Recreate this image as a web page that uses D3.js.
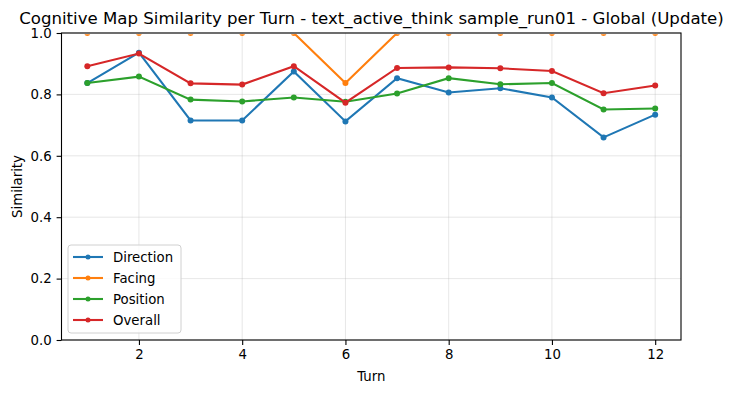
<!DOCTYPE html>
<html>
<head>
<meta charset="utf-8">
<script src="https://cdn.jsdelivr.net/npm/d3@7"></script>
<style>
  body { margin: 0; background: #fff; }
  text { font-family: "DejaVu Sans", sans-serif; fill: #000; }
</style>
</head>
<body>
<div id="chart"></div>
<script>
const turns = [1, 2, 3, 4, 5, 6, 7, 8, 9, 10, 11, 12];
const direction = [0.837, 0.936, 0.715, 0.715, 0.875, 0.712, 0.853, 0.806, 0.820, 0.790, 0.660, 0.734];
const facing = [1, 1, 1, 1, 1, 0.837, 1, 1, 1, 1, 1, 1];
const position = [0.837, 0.858, 0.783, 0.777, 0.790, 0.776, 0.803, 0.853, 0.833, 0.837, 0.751, 0.754];
const overall = [0.892, 0.933, 0.836, 0.832, 0.892, 0.773, 0.886, 0.888, 0.885, 0.876, 0.804, 0.829];
const xTicks = [2, 4, 6, 8, 10, 12];
const yTicks = [0, 0.2, 0.4, 0.6, 0.8, 1.0];

const series = [
  { name: "Direction", values: direction, color: "#1f77b4" },
  { name: "Facing", values: facing, color: "#ff7f0e" },
  { name: "Position", values: position, color: "#2ca02c" },
  { name: "Overall", values: overall, color: "#d62728" }
];

const width = 733;
const height = 393;
const margin = { top: 33, right: 52, bottom: 53, left: 61.5 };

const svg = d3.select("#chart").append("svg")
  .attr("width", width)
  .attr("height", height);

const x = d3.scaleLinear().domain([0.5, 12.5]).range([margin.left, width - margin.right]);
const y = d3.scaleLinear().domain([0, 1]).range([height - margin.bottom, margin.top]);

// matplotlib hides the part of the 1.0 line under the top spine
svg.append("defs").append("clipPath").attr("id", "plot")
  .append("rect")
  .attr("x", margin.left).attr("y", margin.top + 1.2)
  .attr("width", width - margin.left - margin.right)
  .attr("height", height - margin.top - margin.bottom - 1.2);

// grid
svg.append("g").selectAll("line")
  .data(xTicks)
  .join("line")
  .attr("x1", d => x(d)).attr("x2", d => x(d))
  .attr("y1", margin.top).attr("y2", height - margin.bottom)
  .attr("stroke", "#b0b0b0").attr("stroke-opacity", 0.3).attr("stroke-width", 1);

svg.append("g").selectAll("line")
  .data(yTicks)
  .join("line")
  .attr("x1", margin.left).attr("x2", width - margin.right)
  .attr("y1", d => y(d)).attr("y2", d => y(d))
  .attr("stroke", "#b0b0b0").attr("stroke-opacity", 0.3).attr("stroke-width", 1);

const plot = svg.append("g").attr("clip-path", "url(#plot)");

const line = d3.line()
  .x((d, i) => x(turns[i]))
  .y(d => y(d));

series.forEach(s => {
  plot.append("path")
    .attr("d", line(s.values))
    .attr("fill", "none")
    .attr("stroke", s.color)
    .attr("stroke-width", 2.1);

  plot.selectAll(null)
    .data(s.values)
    .join("circle")
    .attr("cx", (d, i) => x(turns[i]))
    .attr("cy", d => y(d))
    .attr("r", 3)
    .attr("fill", s.color);
});

// axes
const xAxis = svg.append("g")
  .attr("transform", `translate(0, ${height - margin.bottom})`)
  .call(d3.axisBottom(x).tickValues(xTicks).tickSize(4.9).tickPadding(4.9).tickFormat(d3.format("d")));

const yAxis = svg.append("g")
  .attr("transform", `translate(${margin.left}, 0)`)
  .call(d3.axisLeft(y).tickValues(yTicks).tickSize(4.9).tickPadding(4.9).tickFormat(d3.format(".1f")));

[xAxis, yAxis].forEach(a => {
  a.select(".domain").remove();
  a.selectAll("text").attr("font-size", 13.3).attr("font-family", "DejaVu Sans, sans-serif");
  a.selectAll("line").attr("stroke", "#000").attr("stroke-width", 1.1);
});

svg.append("rect")
  .attr("x", margin.left).attr("y", margin.top)
  .attr("width", width - margin.left - margin.right)
  .attr("height", height - margin.top - margin.bottom)
  .attr("fill", "none")
  .attr("stroke", "#000")
  .attr("stroke-width", 1.1);

// labels
svg.append("text")
  .attr("x", (margin.left + width - margin.right) / 2)
  .attr("y", 381)
  .attr("text-anchor", "middle")
  .attr("font-size", 13.3)
  .text("Turn");

svg.append("text")
  .attr("transform", `translate(22, ${(margin.top + height - margin.bottom) / 2}) rotate(-90)`)
  .attr("text-anchor", "middle")
  .attr("font-size", 13.3)
  .text("Similarity");

svg.append("text")
  .attr("x", 371.5)
  .attr("y", 24)
  .attr("text-anchor", "middle")
  .attr("font-size", 16.6)
  .text("Cognitive Map Similarity per Turn - text_active_think sample_run01 - Global (Update)");

// legend
const legend = svg.append("g").attr("transform", "translate(68, 245)");

legend.append("rect")
  .attr("width", 113).attr("height", 88)
  .attr("rx", 3)
  .attr("fill", "#fff").attr("fill-opacity", 0.8)
  .attr("stroke", "#d0d0d0");

const items = legend.selectAll("g.item")
  .data(series)
  .join("g")
  .attr("class", "item")
  .attr("transform", (d, i) => `translate(0, ${12 + i * 21})`);

items.append("line")
  .attr("x1", 5).attr("x2", 35)
  .attr("stroke", d => d.color).attr("stroke-width", 2.1);

items.append("circle")
  .attr("cx", 20).attr("r", 2.5)
  .attr("fill", d => d.color);

items.append("text")
  .attr("x", 45).attr("dy", "0.35em")
  .attr("font-size", 13.3)
  .text(d => d.name);
</script>
</body>
</html>
